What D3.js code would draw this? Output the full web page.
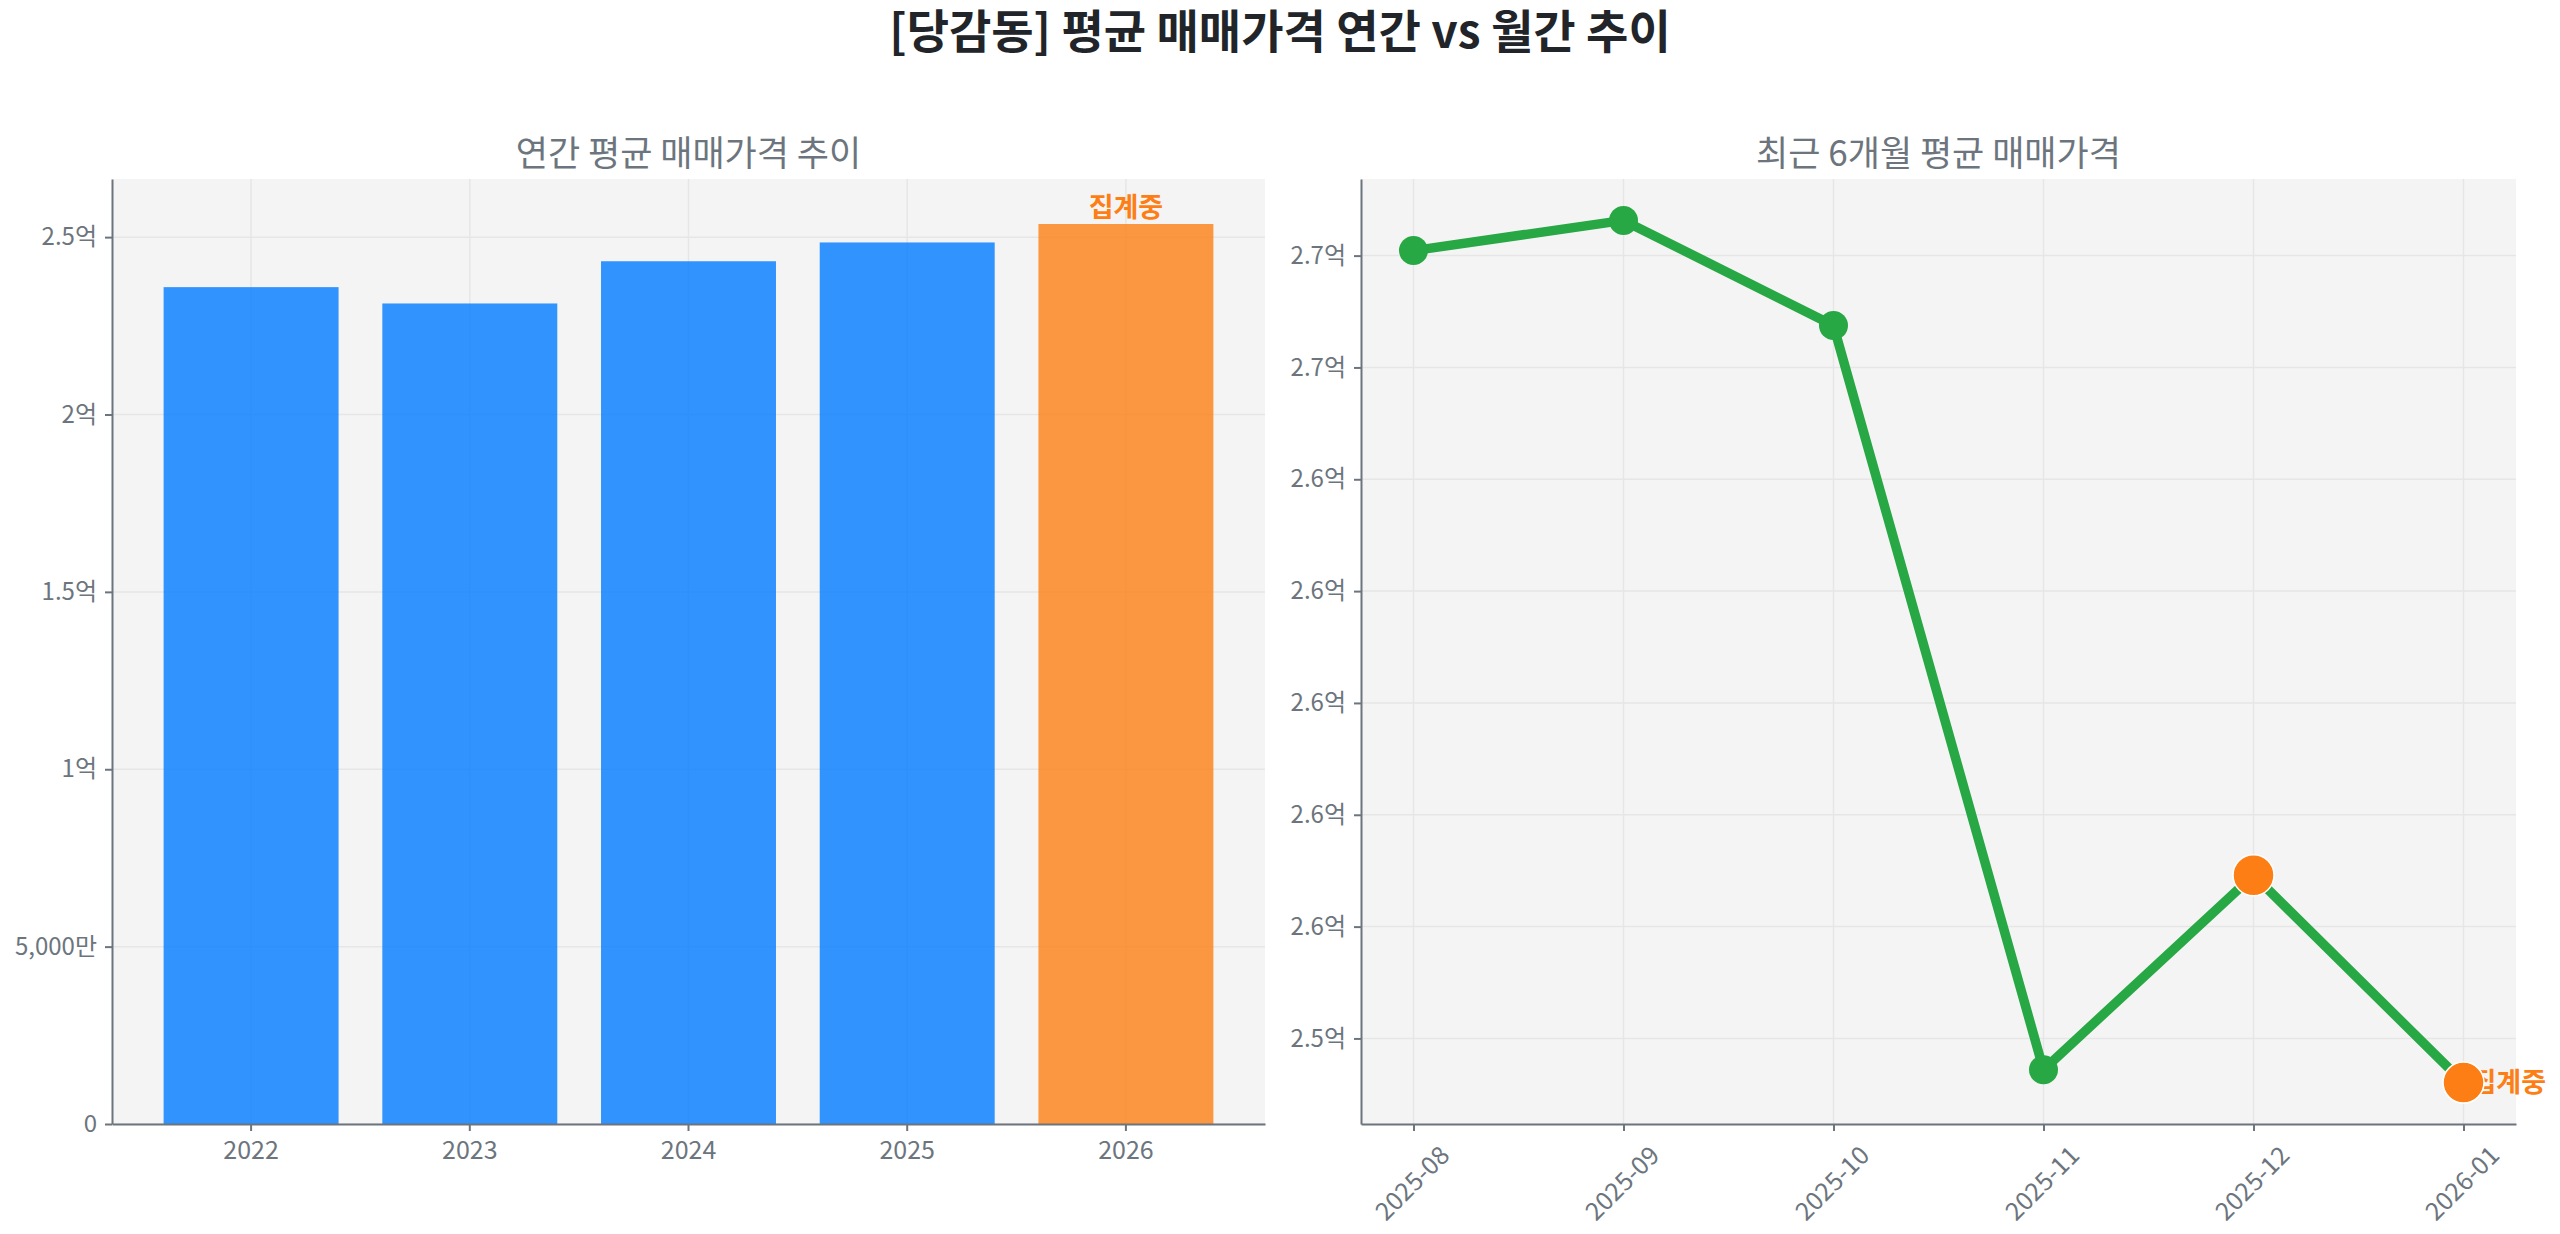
<!DOCTYPE html>
<html>
<head>
<meta charset="utf-8">
<script src="https://cdn.jsdelivr.net/npm/d3@7"></script>
<style>
  body { margin: 0; background: #fff; }
  text { font-family: "Noto Sans CJK KR", "Noto Sans", sans-serif; }
</style>
</head>
<body>
<svg id="chart" width="2560" height="1234"></svg>
<script>
// 연간 평균 매매가격 (원)
var years = ["2022", "2023", "2024", "2025", "2026"];
var yearValues = [235900000, 231300000, 243200000, 248500000, 253700000];
var yearPartial = [false, false, false, false, true];

// 최근 6개월 평균 매매가격 (원)
var months = ["2025-08", "2025-09", "2025-10", "2025-11", "2025-12", "2026-01"];
var monthValues = [268090000, 268630000, 266750000, 253440000, 256920000, 253210000];
var monthPartial = [false, false, false, false, true, true];

var mainTitle = "[당감동] 평균 매매가격 연간 vs 월간 추이";
var leftTitle = "연간 평균 매매가격 추이";
var rightTitle = "최근 6개월 평균 매매가격";
var partialLabel = "집계중";

var svg = d3.select("#chart");
var grey = "#6c757d";
var plotTop = 179, plotBottom = 1124;

// 전체 제목
svg.append("text")
    .attr("x", 1280)
    .attr("y", 48)
    .attr("text-anchor", "middle")
    .style("font-size", "46px")
    .style("font-weight", "bold")
    .style("fill", "#212529")
    .text(mainTitle);

function panel(x0, x1, title) {
  var g = svg.append("g");
  g.append("rect")
      .attr("x", x0).attr("y", plotTop)
      .attr("width", x1 - x0).attr("height", plotBottom - plotTop)
      .style("fill", "#f4f4f4");
  g.append("text")
      .attr("x", (x0 + x1) / 2)
      .attr("y", 166)
      .attr("text-anchor", "middle")
      .style("font-size", "35px")
      .style("fill", grey)
      .text(title);
  return g;
}

function styleAxis(a) {
  a.selectAll("path, line").style("stroke", grey).style("stroke-width", 2);
  a.selectAll("text").style("fill", grey).style("font-size", "24px");
}

// ---------- 왼쪽: 연간 막대 ----------
var L0 = 112, L1 = 1265;
var gl = panel(L0, L1, leftTitle);

var x = d3.scaleBand().domain(years).range([L0, L1]).paddingInner(0.2).paddingOuter(0.236);
var y = d3.scaleLinear().domain([0, d3.max(yearValues) * 1.05]).range([plotBottom, plotTop]);

function wonFormat(v) {
  if (v === 0) return "0";
  if (v < 1e8) return d3.format(",")(v / 1e4) + "만";
  return d3.format("~g")(v / 1e8) + "억";
}

// 격자
gl.append("g").selectAll("line")
    .data(y.ticks(6))
    .enter().append("line")
    .attr("x1", L0).attr("x2", L1)
    .attr("y1", function(d) { return y(d); })
    .attr("y2", function(d) { return y(d); })
    .style("stroke", "#e6e6e6").style("stroke-width", 1.5);
gl.append("g").selectAll("line")
    .data(years)
    .enter().append("line")
    .attr("x1", function(d) { return x(d) + x.bandwidth() / 2; })
    .attr("x2", function(d) { return x(d) + x.bandwidth() / 2; })
    .attr("y1", plotTop).attr("y2", plotBottom)
    .style("stroke", "#e6e6e6").style("stroke-width", 1.5);

// 막대
gl.append("g").selectAll("rect")
    .data(years)
    .enter().append("rect")
    .attr("x", function(d) { return x(d); })
    .attr("width", x.bandwidth())
    .attr("y", function(d, i) { return y(yearValues[i]); })
    .attr("height", function(d, i) { return plotBottom - y(yearValues[i]); })
    .style("fill", function(d, i) { return yearPartial[i] ? "#fd7e14" : "#007bff"; })
    .style("fill-opacity", 0.8);

// 집계중 라벨
gl.append("g").selectAll("text")
    .data(years.filter(function(d, i) { return yearPartial[i]; }))
    .enter().append("text")
    .attr("x", function(d) { return x(d) + x.bandwidth() / 2; })
    .attr("y", function(d) { return y(yearValues[years.indexOf(d)]) - 7; })
    .attr("text-anchor", "middle")
    .style("font-size", "27px")
    .style("font-weight", "bold")
    .style("fill", "#fd7e14")
    .text(partialLabel);

var ayl = gl.append("g")
    .attr("transform", "translate(" + L0 + ",0)")
    .call(d3.axisLeft(y).ticks(6).tickSize(7).tickPadding(8).tickFormat(wonFormat).tickSizeOuter(0));
styleAxis(ayl);
var axl = gl.append("g")
    .attr("transform", "translate(0," + plotBottom + ")")
    .call(d3.axisBottom(x).tickSize(7).tickPadding(10).tickSizeOuter(0));
styleAxis(axl);
axl.selectAll("text").style("font-size", "25px");

// ---------- 오른쪽: 월간 선 ----------
var R0 = 1361, R1 = 2516;
var gr = panel(R0, R1, rightTitle);

var x2 = d3.scalePoint().domain(months).range([R0, R1]).padding(0.25);
var ext = d3.extent(monthValues);
var pad = (ext[1] - ext[0]) * 0.048;
var y2 = d3.scaleLinear().domain([ext[0] - pad, ext[1] + pad]).range([plotBottom, plotTop]);

gr.append("g").selectAll("line")
    .data(y2.ticks(8))
    .enter().append("line")
    .attr("x1", R0).attr("x2", R1)
    .attr("y1", function(d) { return y2(d); })
    .attr("y2", function(d) { return y2(d); })
    .style("stroke", "#e6e6e6").style("stroke-width", 1.5);
gr.append("g").selectAll("line")
    .data(months)
    .enter().append("line")
    .attr("x1", function(d) { return x2(d); })
    .attr("x2", function(d) { return x2(d); })
    .attr("y1", plotTop).attr("y2", plotBottom)
    .style("stroke", "#e6e6e6").style("stroke-width", 1.5);

var line = d3.line()
    .x(function(d, i) { return x2(months[i]); })
    .y(function(d) { return y2(d); });

gr.append("path")
    .datum(monthValues)
    .attr("d", line)
    .style("fill", "none")
    .style("stroke", "#28a745")
    .style("stroke-width", 9.5)
    .style("stroke-linejoin", "round");

// 마지막 달 집계중 라벨 (마커 아래)
var last = months.length - 1;
gr.append("text")
    .attr("x", x2(months[last]) + 8)
    .attr("y", y2(monthValues[last]))
    .attr("dy", "0.35em")
    .style("font-size", "27px")
    .style("font-weight", "bold")
    .style("fill", "#fd7e14")
    .text(partialLabel);

gr.append("g").selectAll("circle")
    .data(monthValues)
    .enter().append("circle")
    .attr("cx", function(d, i) { return x2(months[i]); })
    .attr("cy", function(d) { return y2(d); })
    .attr("r", function(d, i) { return monthPartial[i] ? 20.5 : 14.5; })
    .style("fill", function(d, i) { return monthPartial[i] ? "#fd7e14" : "#28a745"; })
    .style("stroke", function(d, i) { return monthPartial[i] ? "#fff" : "none"; })
    .style("stroke-width", 1.5);

var ayr = gr.append("g")
    .attr("transform", "translate(" + R0 + ",0)")
    .call(d3.axisLeft(y2).ticks(8).tickSize(7).tickPadding(8)
      .tickFormat(function(v) { return (v / 1e8).toFixed(1) + "억"; }).tickSizeOuter(0));
styleAxis(ayr);
var axr = gr.append("g")
    .attr("transform", "translate(0," + plotBottom + ")")
    .call(d3.axisBottom(x2).tickSize(7).tickSizeOuter(0));
styleAxis(axr);
axr.selectAll("text")
    .style("font-size", "25px")
    .attr("y", 0).attr("dy", 0)
    .attr("text-anchor", "end")
    .attr("transform", "translate(37,33) rotate(-45)");
</script>
</body>
</html>
